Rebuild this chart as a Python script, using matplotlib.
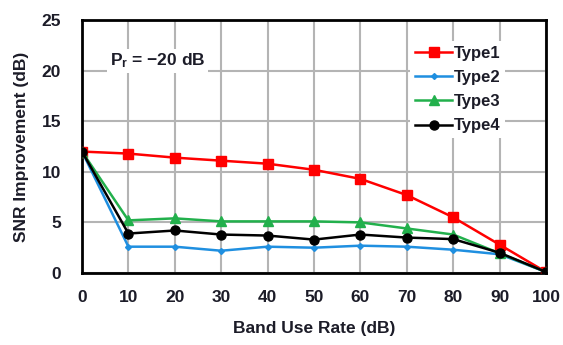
import matplotlib
matplotlib.use("Agg")
import matplotlib.pyplot as plt

plt.rcParams['font.family'] = ['Liberation Sans', 'DejaVu Sans']
plt.rcParams['font.weight'] = 'bold'
plt.rcParams['axes.labelweight'] = 'bold'
plt.rcParams['mathtext.default'] = 'regular'

# band use rate on the x axis
rate = [0, 10, 20, 30, 40, 50, 60, 70, 80, 90, 100]

# SNR improvement (dB) for each type
type1 = [12.0, 11.8, 11.4, 11.1, 10.8, 10.2, 9.3, 7.7, 5.5, 2.8, 0.1]
type2 = [12.0, 2.6, 2.6, 2.2, 2.6, 2.5, 2.7, 2.6, 2.3, 1.85, 0.1]
type3 = [12.0, 5.2, 5.4, 5.1, 5.1, 5.1, 5.0, 4.4, 3.8, 1.95, 0.1]
type4 = [12.0, 3.9, 4.2, 3.8, 3.7, 3.3, 3.8, 3.5, 3.35, 2.0, 0.1]

txt = '#1c1c28'

fig = plt.figure(figsize=(5.63, 3.45), dpi=100)
ax = fig.add_axes([82/563, 1 - 273/345, (546-82)/563, (273-20)/345])

ax.plot(rate, type1, color='#ff0000', marker='s', markersize=7, lw=1.8, label='Type1', zorder=3)
ax.plot(rate, type2, color='#1f8fe0', marker='D', markersize=3, lw=1.8, label='Type2', zorder=3)
ax.plot(rate, type3, color='#22b04c', marker='^', markersize=7, lw=1.8, label='Type3', zorder=3)
ax.plot(rate, type4, color='#000000', marker='o', markersize=6.5, lw=1.8, label='Type4', zorder=4)

ax.set_xlim(0, 100)
ax.set_ylim(0, 25)
ax.set_xticks(rate)
ax.set_yticks([0, 5, 10, 15, 20, 25])
ax.grid(True, color='#b4b4b4', lw=1.5)
ax.set_axisbelow(True)
for s in ax.spines.values():
    s.set_linewidth(2)
    s.set_color('black')
ax.tick_params(length=0, labelsize=12.5, labelcolor=txt)
ax.tick_params(axis='x', pad=12)
ax.tick_params(axis='y', pad=15)

ax.set_xlabel('Band Use Rate (dB)', fontsize=12.5, color=txt, labelpad=12)
ax.set_ylabel('SNR Improvement (dB)', fontsize=12.5, color=txt, labelpad=9)

ax.text(6, 20.5, 'P$_r$ = \u221220 dB', fontsize=12.5, color=txt,
        bbox=dict(facecolor='white', edgecolor='none', pad=2))

leg = ax.legend(loc='upper right', bbox_to_anchor=(0.93, 0.95), frameon=True,
                fontsize=12, handlelength=2.2, handletextpad=0.1, labelspacing=0.55,
                borderpad=0.3, fancybox=False)
leg.get_frame().set_edgecolor('none')
leg.get_frame().set_facecolor('white')
leg.get_frame().set_alpha(1)
for t in leg.get_texts():
    t.set_color(txt)

fig.savefig('out.png', dpi=100)
